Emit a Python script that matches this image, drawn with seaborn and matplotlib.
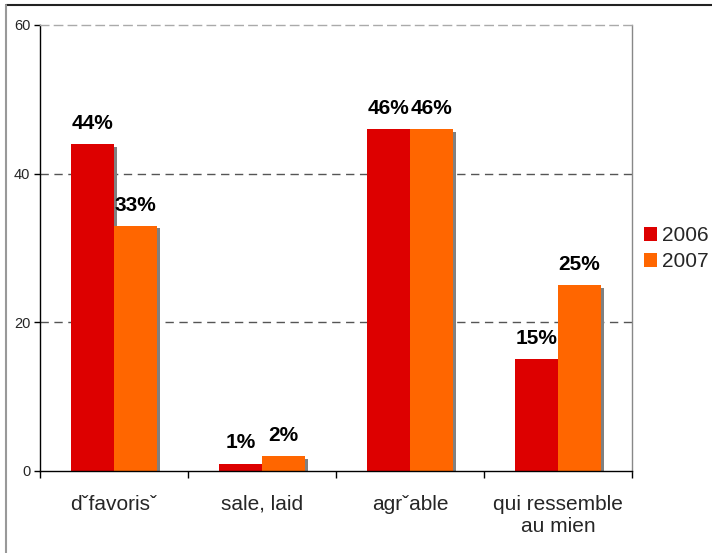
import matplotlib.pyplot as plt
import matplotlib.patheffects as pe
from matplotlib.lines import Line2D
import pandas as pd
import seaborn as sns

categories = ["dˇfavorisˇ", "sale, laid", "agrˇable", "qui ressemble\nau mien"]
years = ["2006", "2007"]
values_2006 = [44, 1, 46, 15]
values_2007 = [33, 2, 46, 25]
y_ticks = [0, 20, 40, 60]
grid_levels = [20, 40]
colors = ["#dd0000", "#ff6600"]

sns.set_style("white")
plt.rcParams["font.family"] = ["Liberation Sans", "DejaVu Sans"]

df = pd.DataFrame({
    "categorie": categories * 2,
    "annee": [years[0]] * len(categories) + [years[1]] * len(categories),
    "pct": values_2006 + values_2007,
})

fig = plt.figure(figsize=(7.12, 5.53), dpi=100)
ax = fig.add_axes([0.0562, 0.1483, 0.8315, 0.8065])

sns.barplot(data=df, x="categorie", y="pct", hue="annee", order=categories,
            hue_order=years, palette=colors, width=0.58, errorbar=None,
            saturation=1, linewidth=0, ax=ax)

ax.set_xlim(-0.5, len(categories) - 0.5)
ax.set_ylim(0, 60)
ax.set_yticks(y_ticks)
ax.set_xlabel("")
ax.set_ylabel("")

# drop shadow on the bars, like the old excel charts
shadow = [pe.SimplePatchShadow(offset=(2, -2), shadow_rgbFace="#808080", alpha=1.0), pe.Normal()]
for cont, vals in zip(ax.containers, [values_2006, values_2007]):
    for bar in cont:
        bar.set_path_effects(shadow)
    ax.bar_label(cont, labels=[f"{v}%" for v in vals], padding=8,
                 fontsize=15, fontweight="bold", color="black")

for lvl in grid_levels:
    ax.axhline(lvl, color="#555555", linestyle=(0, (6, 4)), linewidth=1, zorder=0.5)

ax.spines["left"].set_color("black")
ax.spines["bottom"].set_color("black")
ax.spines["right"].set_color("#888888")
ax.spines["top"].set_color("#aaaaaa")
ax.spines["top"].set_linestyle((0, (6, 4)))
for s in ax.spines.values():
    s.set_linewidth(1)

ax.set_xticks([i - 0.5 for i in range(len(categories) + 1)], minor=True)
ax.tick_params(axis="x", which="major", bottom=True, length=0, pad=17, labelsize=15)
ax.tick_params(axis="x", which="minor", bottom=True, length=5, width=1, color="black")
ax.tick_params(axis="y", left=True, length=4, width=1, color="black", pad=3,
               labelsize=10.5)

# legend kept just inside the right edge so the years stay readable
handles, labels = ax.get_legend_handles_labels()
ax.legend_.remove()
fig.legend(handles, labels, loc="center left", bbox_to_anchor=(0.904, 0.55),
           frameon=False, fontsize=15, handlelength=0.65, handleheight=0.65,
           handletextpad=0.25, labelspacing=0.35, borderpad=0, borderaxespad=0)

# outer frame (only top and left edges show)
fig.add_artist(Line2D([0.0084, 1], [0.991, 0.991], transform=fig.transFigure,
                      color="#222222", linewidth=1.5))
fig.add_artist(Line2D([0.0084, 0.0084], [0, 0.991], transform=fig.transFigure,
                      color="#999999", linewidth=1.5))

fig.savefig("out.png", dpi=100)
